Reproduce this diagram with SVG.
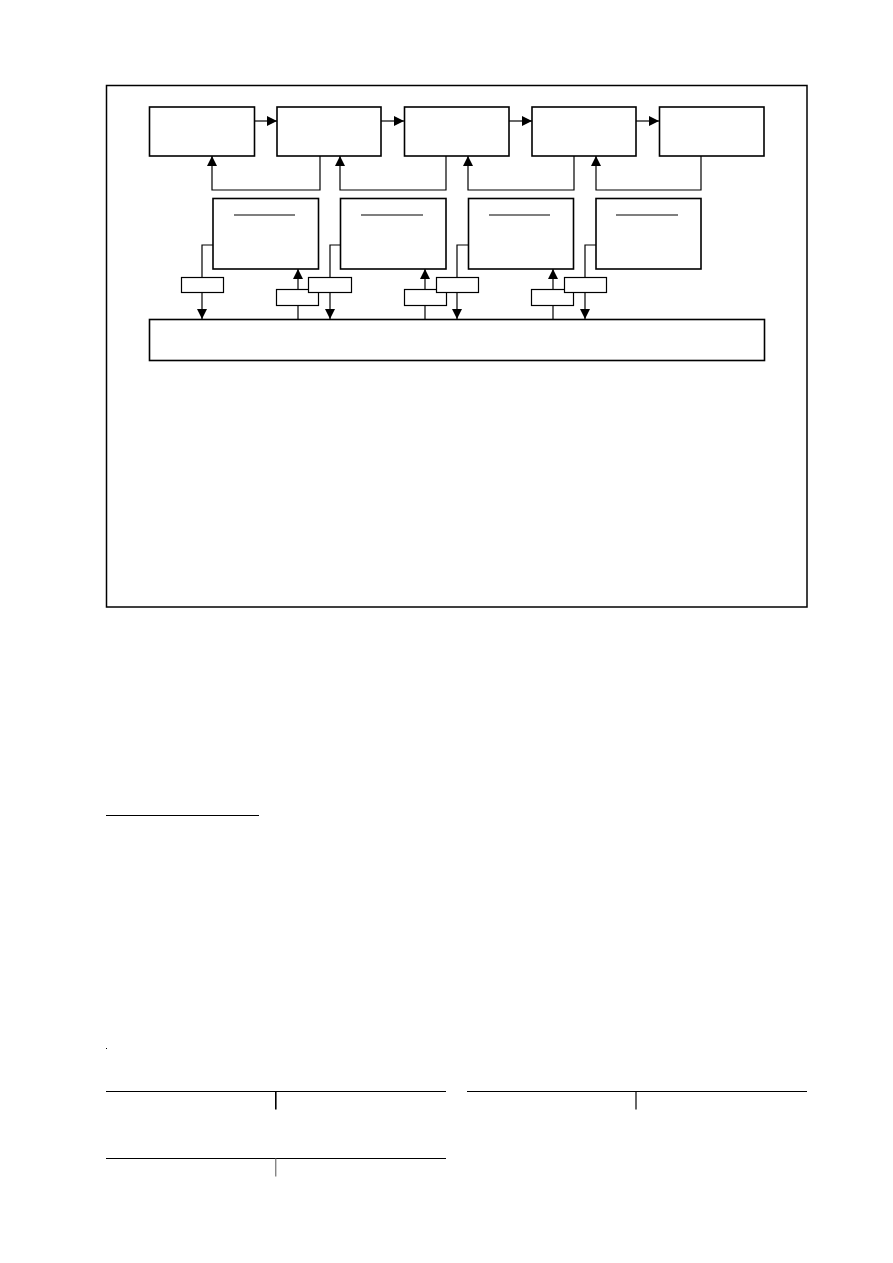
<svg xmlns="http://www.w3.org/2000/svg" width="893" height="1263" viewBox="0 0 893 1263">
<defs>
<style>
.box{fill:#fff;stroke:#000;stroke-width:1.6}
.sm{fill:#fff;stroke:#000;stroke-width:1.2}
.ln{fill:none;stroke:#000;stroke-width:1.2}
.ar{fill:none;stroke:#000;stroke-width:1.2;marker-end:url(#ah)}
</style>
<marker id="ah" markerUnits="userSpaceOnUse" markerWidth="10" markerHeight="10" refX="10" refY="5" orient="auto" viewBox="0 0 10 10">
<path d="M0,0 L10,5 L0,10 z" fill="#000"/>
</marker>
</defs>
<rect width="893" height="1263" fill="#fff"/>
<rect id="frame" x="106.5" y="85.5" width="700.5" height="521.5" fill="none" stroke="#000" stroke-width="1.5"/>

<g id="connectors">
<!-- forward arrows between top boxes -->
<path class="ar" d="M254,121 H277"/>
<path class="ar" d="M381,121 H404"/>
<path class="ar" d="M509,121 H532"/>
<path class="ar" d="M636,121 H659"/>
<!-- feedback arrows -->
<path class="ar" d="M320,156 V190 H212 V156"/>
<path class="ar" d="M446,156 V190 H340 V156"/>
<path class="ar" d="M574,156 V190 H468 V156"/>
<path class="ar" d="M701,156 V190 H596 V156"/>
<!-- down paths from middle boxes to bus -->
<path class="ln" d="M213,245 H202 V277"/>
<path class="ar" d="M202,292 V319"/>
<path class="ln" d="M340,245 H330 V277"/>
<path class="ar" d="M330,292 V319"/>
<path class="ln" d="M468,245 H457 V277"/>
<path class="ar" d="M457,292 V319"/>
<path class="ln" d="M596,245 H585 V277"/>
<path class="ar" d="M585,292 V319"/>
<!-- up paths from bus to middle boxes -->
<path class="ln" d="M298,319 V305"/>
<path class="ar" d="M298,289 V269"/>
<path class="ln" d="M425,319 V305"/>
<path class="ar" d="M425,289 V269"/>
<path class="ln" d="M553,319 V305"/>
<path class="ar" d="M553,289 V269"/>
</g>

<g id="top1"><rect class="box" x="149.5" y="107" width="105" height="49"/></g>
<g id="top2"><rect class="box" x="277" y="107" width="104" height="49"/></g>
<g id="top3"><rect class="box" x="404.5" y="107" width="104.5" height="49"/></g>
<g id="top4"><rect class="box" x="532" y="107" width="104" height="49"/></g>
<g id="top5"><rect class="box" x="659.5" y="107" width="104.5" height="49"/></g>

<g id="mid1"><rect class="box" x="213" y="198.5" width="105.5" height="70.5"/><line class="ln" x1="234" y1="215" x2="295" y2="215"/></g>
<g id="mid2"><rect class="box" x="340.5" y="198.5" width="105.5" height="70.5"/><line class="ln" x1="361" y1="215" x2="423" y2="215"/></g>
<g id="mid3"><rect class="box" x="468.5" y="198.5" width="105" height="70.5"/><line class="ln" x1="489" y1="215" x2="550" y2="215"/></g>
<g id="mid4"><rect class="box" x="596" y="198.5" width="105" height="70.5"/><line class="ln" x1="616" y1="215" x2="678" y2="215"/></g>

<g id="s1"><rect class="sm" x="181.5" y="277.5" width="42" height="15"/></g>
<g id="s2"><rect class="sm" x="276.5" y="289.5" width="42" height="16"/></g>
<g id="s3"><rect class="sm" x="308.5" y="277.5" width="43" height="15"/></g>
<g id="s4"><rect class="sm" x="404.5" y="289.5" width="42" height="16"/></g>
<g id="s5"><rect class="sm" x="436.5" y="277.5" width="42" height="15"/></g>
<g id="s6"><rect class="sm" x="531.5" y="289.5" width="42" height="16"/></g>
<g id="s7"><rect class="sm" x="564.5" y="277.5" width="42" height="15"/></g>

<g id="bus"><rect class="box" x="149.5" y="319.5" width="615" height="41"/></g>

<line x1="106" y1="815.5" x2="259" y2="815.5" stroke="#000" stroke-width="1.2"/>
<rect x="106" y="1048" width="1" height="1" fill="#000"/>
<line x1="106" y1="1091.5" x2="446" y2="1091.5" stroke="#000" stroke-width="1.2"/>
<line x1="275.8" y1="1091" x2="275.8" y2="1109.5" stroke="#000" stroke-width="1.6"/>
<line x1="106" y1="1158.5" x2="446" y2="1158.5" stroke="#000" stroke-width="1.2"/>
<line x1="275.8" y1="1158" x2="275.8" y2="1176.5" stroke="#555" stroke-width="1"/>
<line x1="467" y1="1091.5" x2="807" y2="1091.5" stroke="#000" stroke-width="1.2"/>
<line x1="636" y1="1091" x2="636" y2="1109.5" stroke="#000" stroke-width="1.2"/>
</svg>
